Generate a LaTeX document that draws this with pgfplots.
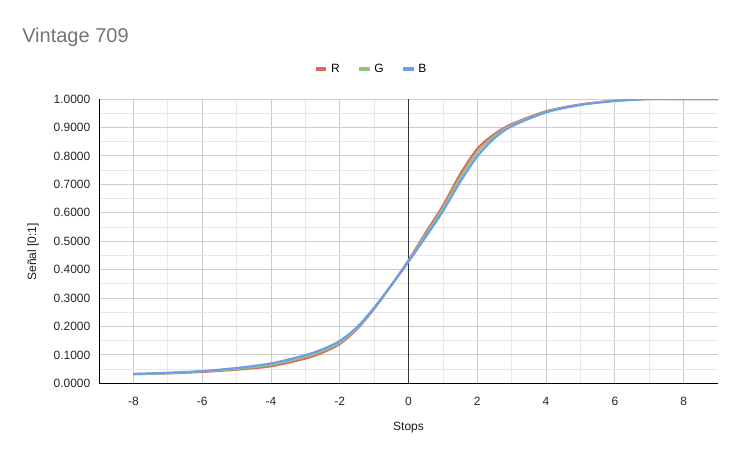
\documentclass[border=0pt]{standalone}
\usepackage{pgfplots}
\pgfplotsset{compat=1.18}
\usepackage{fontspec}
\setmainfont{Liberation Sans}
\definecolor{cR}{HTML}{E06666}
\definecolor{cG}{HTML}{93C47D}
\definecolor{cB}{HTML}{6D9EEB}
\definecolor{majgrid}{HTML}{CCCCCC}
\definecolor{mingrid}{HTML}{E8E8E8}
\definecolor{titlegray}{HTML}{757575}
\begin{document}
\begin{tikzpicture}[x=0.75pt,y=0.75pt]
\path[use as bounding box] (0,0) rectangle (741,458);
\node[anchor=west,font=\fontsize{15pt}{18pt}\selectfont,text=titlegray,inner sep=0] at (22,421) {Vintage 709};
\begin{axis}[
  at={(99pt*0.75,74.7pt*0.75)}, anchor=south west,
  scale only axis, width=464.25pt, height=213.2pt,
  xmin=-9, xmax=9, ymin=0, ymax=1,
  xtick={-8,-6,...,8}, ytick={0,0.1,...,1.0001},
  minor x tick num=1, minor y tick num=1,
  grid=both,
  major grid style={majgrid, line width=0.6pt},
  minor grid style={mingrid, line width=0.6pt},
  major tick length=0pt, minor tick length=0pt,
  axis x line*=bottom, axis y line*=left,
  axis line style={black, line width=0.7pt, -},
  /pgf/number format/assume math mode=true,
  yticklabel style={/pgf/number format/fixed, /pgf/number format/fixed zerofill, /pgf/number format/precision=4, xshift=-3pt},
  ticklabel style={font=\fontsize{9pt}{10pt}\selectfont, text=black!85},
  xticklabel style={yshift=-7pt},
  xlabel={Stops}, ylabel={Señal [0:1]},
  label style={font=\fontsize{9pt}{10pt}\selectfont, text=black!90},
  xlabel style={at={(axis description cs:0.5,-0.157)}, anchor=center},
  ylabel style={at={(axis description cs:-0.1066,0.462)}, anchor=center},
  legend columns=3,
  legend style={at={(axis description cs:0.44,1.106)}, anchor=center, draw=none, fill=none,
    font=\fontsize{9pt}{10pt}\selectfont,
    /tikz/every even column/.append style={column sep=11pt}},
  legend image code/.code={\draw[line width=3pt] (0pt,0pt) -- (8pt,0pt);},
  every axis plot/.append style={line width=1.6pt, smooth, tension=0.5},
]
\draw[black!80, line width=0.8pt] (axis cs:0,0) -- (axis cs:0,1);
\addplot[cR] coordinates {
(-8,0.032) (-7,0.035) (-6,0.040) (-5,0.048) (-4,0.060) (-3,0.087) (-2.5,0.108)
(-2,0.138) (-1.5,0.190) (-1,0.262) (-0.5,0.345) (0,0.433) (0.5,0.530) (1,0.625)
(1.5,0.735) (2,0.825) (2.5,0.877) (3,0.912) (4,0.957) (5,0.981) (6,0.994) (7,1.0) (8,1.0) (9,1.0)};
\addlegendentry{R}
\addplot[cG] coordinates {
(-8,0.032) (-7,0.036) (-6,0.042) (-5,0.051) (-4,0.065) (-3,0.093) (-2.5,0.114)
(-2,0.143) (-1.5,0.193) (-1,0.264) (-0.5,0.345) (0,0.430) (0.5,0.523) (1,0.615)
(1.5,0.722) (2,0.812) (2.5,0.870) (3,0.908) (4,0.955) (5,0.980) (6,0.994) (7,1.0) (8,1.0) (9,1.0)};
\addlegendentry{G}
\addplot[cB] coordinates {
(-8,0.033) (-7,0.037) (-6,0.043) (-5,0.054) (-4,0.070) (-3,0.099) (-2.5,0.120)
(-2,0.149) (-1.5,0.197) (-1,0.266) (-0.5,0.345) (0,0.428) (0.5,0.515) (1,0.605)
(1.5,0.708) (2,0.798) (2.5,0.862) (3,0.904) (4,0.953) (5,0.979) (6,0.993) (7,1.0) (8,1.0) (9,1.0)};
\addlegendentry{B}
\end{axis}
\end{tikzpicture}
\end{document}
